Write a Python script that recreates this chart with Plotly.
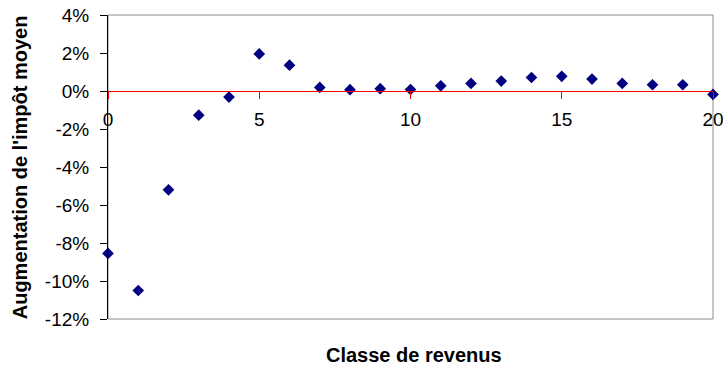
import plotly.graph_objects as go

# Classe de revenus (0..20) et augmentation de l'impôt moyen
classes = list(range(21))
augmentation = [-0.0855, -0.105, -0.052, -0.0127, -0.0032, 0.0195, 0.0136,
                0.0019, 0.0007, 0.0012, 0.0008, 0.0027, 0.0040, 0.0052,
                0.0071, 0.0077, 0.0063, 0.0040, 0.0033, 0.0033, -0.0018]

x_ticks = [0, 5, 10, 15, 20]
y_ticks = [-0.12, -0.10, -0.08, -0.06, -0.04, -0.02, 0.0, 0.02, 0.04]
y_tick_labels = ["-12%", "-10%", "-8%", "-6%", "-4%", "-2%", "0%", "2%", "4%"]

Y_MIN, Y_MAX = -0.12, 0.04
FONT = "Liberation Sans, Arial, sans-serif"

fig = go.Figure(go.Scatter(
    x=classes, y=augmentation,
    mode="markers",
    marker=dict(symbol="diamond", size=9, color="#000080"),
    cliponaxis=False,
    showlegend=False,
))

fig.update_layout(
    width=723, height=367,
    plot_bgcolor="white", paper_bgcolor="white",
    font=dict(family=FONT, size=19, color="black"),
    margin=dict(l=108, r=10, t=15, b=48),
    shapes=[dict(type="rect", xref="paper", yref="paper", x0=0, x1=1, y0=0, y1=1,
                 line=dict(color="#8c8c8c", width=1), layer="below")],
    annotations=[
        dict(text="<b>Classe de revenus</b>", xref="paper", yref="paper",
             x=0.505, y=-0.118, yanchor="middle", showarrow=False,
             font=dict(size=20)),
        dict(text="<b>Augmentation de l'impôt moyen</b>", xref="paper", yref="paper",
             x=-0.145, y=0.50, xanchor="center", textangle=-90, showarrow=False,
             font=dict(size=20)),
    ],
)

# l'axe des x croise l'axe des y à 0
fig.update_xaxes(
    range=[0, 20], tickvals=x_ticks,
    anchor="free", position=(0 - Y_MIN) / (Y_MAX - Y_MIN),
    showline=True, linecolor="#ff0000", linewidth=1,
    ticks="outside", tickcolor="#ff0000", ticklen=7,
    ticklabelstandoff=4, ticklabeloverflow="allow", automargin=False,
    showgrid=False, zeroline=False,
)
fig.update_yaxes(
    range=[Y_MIN, Y_MAX], tickvals=y_ticks, ticktext=y_tick_labels,
    showline=True, linecolor="black", linewidth=1,
    ticks="outside", tickcolor="black", ticklen=7,
    ticklabelstandoff=7, automargin=False,
    showgrid=False, zeroline=False,
)

fig.write_html("out.html", config={"displayModeBar": False},
               post_script="document.body.style.margin='0';")
